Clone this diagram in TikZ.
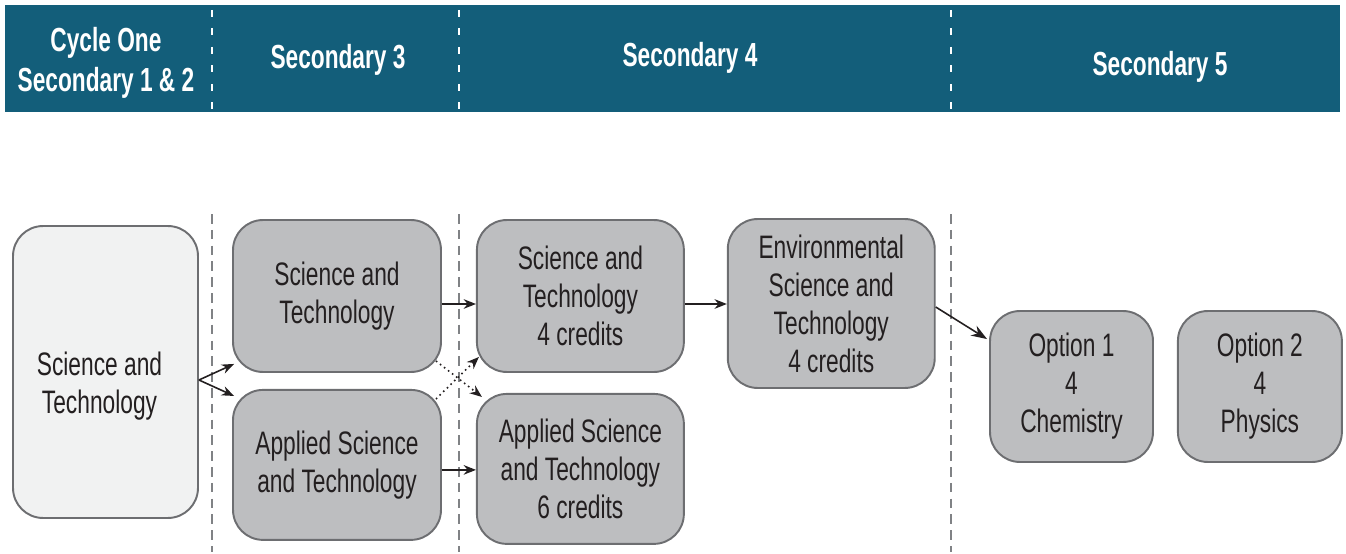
\documentclass[tikz,border=0pt]{standalone}
\usepackage{fontspec}
\setmainfont{Liberation Sans}[FakeStretch=0.7]
\newfontfamily\headfont{Liberation Sans}[FakeStretch=0.68]
\definecolor{headerblue}{RGB}{19,94,122}
\definecolor{boxgray}{RGB}{189,190,192}
\definecolor{boxlight}{RGB}{241,242,242}
\definecolor{edgegray}{RGB}{109,110,113}
\definecolor{dashgray}{RGB}{128,130,133}
\definecolor{textdark}{RGB}{35,31,32}
\usetikzlibrary{positioning,calc,arrows.meta}

\begin{document}
\begin{tikzpicture}[x=0.02cm, y=-0.02cm,
    every node/.style={font=\fontsize{18.5}{21.6}\selectfont, text=textdark, align=center},
    course/.style={rectangle, rounded corners=0.6cm, draw=edgegray, line width=1.1pt, fill=boxgray, minimum width=4.16cm, minimum height=3.04cm, inner sep=2pt},
    header/.style={font=\headfont\bfseries\fontsize{19}{23}\selectfont, text=white},
    flow/.style={-{Stealth[length=7pt,width=5.5pt]}, line width=0.9pt, draw=textdark}]
    \useasboundingbox (0,0) rectangle (1346,554);

    % Header band
    \fill[headerblue] (5,5) rectangle (1340,112);
    \node[header] (h12) at (106,63) {Cycle One\\Secondary 1 \& 2};
    \node[header] (h3) at (338,60) {Secondary 3};
    \node[header] (h4) at (690,58) {Secondary 4};
    \node[header] (h5) at (1160,67) {Secondary 5};

    % Year separators
    \foreach \x in {212,459,951} {
        \draw[white, line width=1.1pt, dash pattern=on 4pt off 6.5pt] (\x,10) -- (\x,112);
        \draw[dashgray, line width=1.1pt, dash pattern=on 5.5pt off 3.5pt] (\x,214) -- (\x,552);
    }

    % Cycle One (text sits low and left in the box)
    \node[course, fill=boxlight, minimum width=3.7cm, minimum height=5.84cm] (cyc) at (105.5,372)
        {\raisebox{-0.3cm}[\height][\depth]{\makebox[0pt]{\begin{tabular}{@{}c@{}}Science and\\Technology\end{tabular}\hspace{0.24cm}}}};

    % Secondary 3
    \node[course] (st3) at (337,296) {Science and\\Technology};
    \node[course, minimum height=3cm, below=0.32cm of st3] (ast3) {Applied Science\\and Technology};

    % Secondary 4
    \node[course, minimum width=4.14cm, right=0.68cm of st3] (st4) {Science and\\Technology\\4 credits};
    \node[course, minimum width=4.14cm, minimum height=3cm, below=0.4cm of st4] (ast4) {Applied Science\\and Technology\\6 credits};
    \node[course, minimum width=4.14cm, minimum height=3.38cm, right=0.84cm of st4, yshift=-0.15cm] (env) {Environmental\\Science and\\Technology\\4 credits};

    % Secondary 5
    \node[course, minimum width=3.26cm, minimum height=3.02cm] (opt1) at (1071.5,386.5) {Option 1\\4\\Chemistry};
    \node[course, minimum width=3.28cm, minimum height=3.02cm, right=0.46cm of opt1] (opt2) {Option 2\\4\\Physics};

    % Paths
    \draw[flow] ([yshift=-0.16cm]cyc.east) -- ($(st3.south west)+(2,-9)$);
    \draw[flow] ([yshift=-0.16cm]cyc.east) -- ($(ast3.north west)+(2,7)$);
    \draw[flow] ([yshift=-0.16cm]st3.east) -- ([yshift=-0.16cm]st3.east -| st4.west);
    \draw[flow] ([yshift=-0.1cm]ast3.east) -- ([yshift=-0.1cm]ast3.east -| ast4.west);
    \draw[flow, dotted] ($(st3.south east)+(-6,-12)$) -- ($(ast4.north west)+(6,4)$);
    \draw[flow, dotted] ($(ast3.north east)+(-6,10)$) -- ($(st4.south west)+(3,-16)$);
    \draw[flow] ([yshift=-0.16cm]st4.east) -- ([yshift=-0.16cm]st4.east -| env.west);
    \draw[flow, -{Stealth[length=9pt,width=6.5pt]}] ([yshift=-0.07cm]env.east) -- ($(opt1.north west)+(-2,29)$);
\end{tikzpicture}
\end{document}
